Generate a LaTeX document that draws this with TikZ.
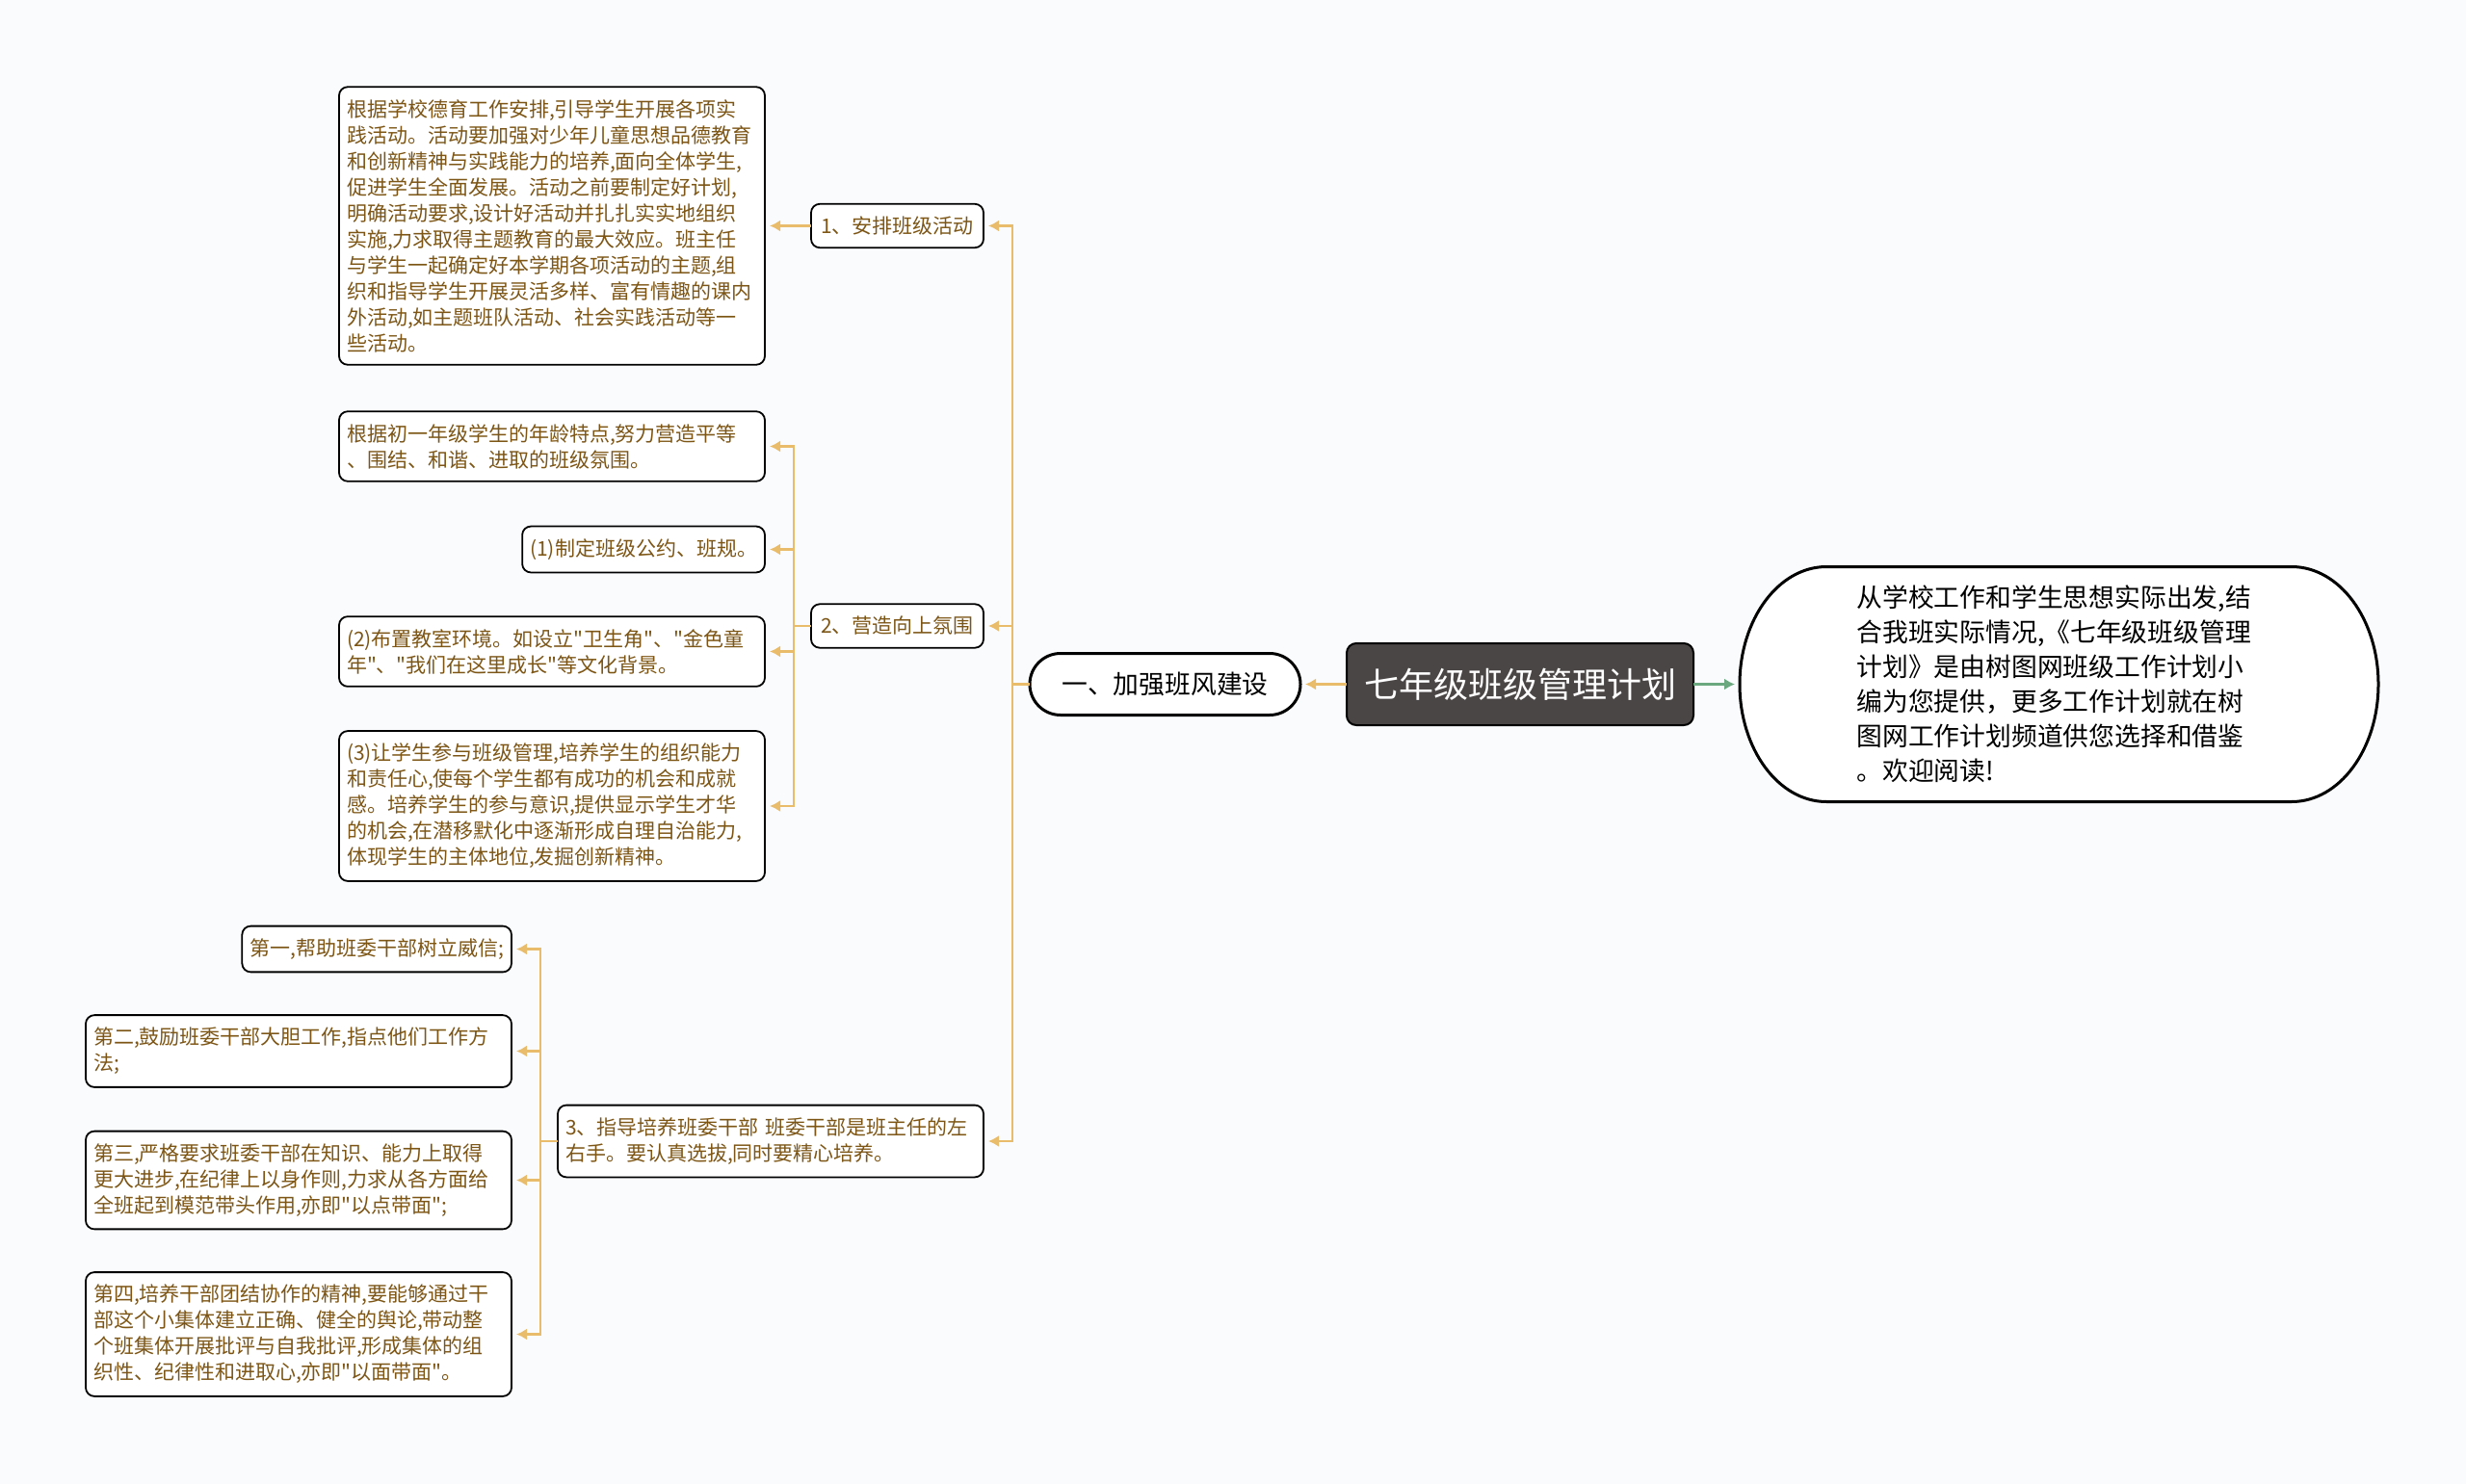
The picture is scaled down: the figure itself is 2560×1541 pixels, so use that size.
\documentclass[tikz,border=0pt]{standalone}
\usepackage{fontspec}
\newfontfamily\cjk{Noto Sans CJK SC}
\usepackage{tikz}
\usetikzlibrary{positioning,arrows.meta}
\definecolor{linkc}{RGB}{233,188,108}
\definecolor{textc}{RGB}{125,86,22}
\definecolor{rootc}{RGB}{75,70,70}
\definecolor{notec}{RGB}{107,167,127}
\definecolor{bgc}{RGB}{250,251,252}

\begin{document}
\begin{tikzpicture}[x=0.5pt, y=-0.5pt, node distance=24pt,
    box/.style={draw=black, line width=0.9pt, rounded corners=4.5pt, fill=white,
      text=textc, font=\cjk\fontsize{10.5}{13.5}\selectfont,
      inner xsep=4pt, inner ysep=6.5pt, outer sep=0pt, align=left},
    leaf/.style={box, text width=213pt},
    branch/.style={box, minimum width=89.5pt},
    topic/.style={draw=black, line width=1.5pt, fill=white, rounded corners=16pt, outer sep=0pt,
      font=\cjk\fontsize{13.4}{16}\selectfont, minimum width=140.5pt, minimum height=32pt},
    root/.style={draw=black, line width=1pt, fill=rootc, rounded corners=5pt, text=white, outer sep=0pt,
      font=\cjk\fontsize{18}{22}\selectfont, minimum width=180pt, minimum height=42.5pt},
    note/.style={font=\cjk\fontsize{13.4}{18}\selectfont, text width=210pt, align=left,
      minimum width=331.5pt, minimum height=122pt, outer sep=0pt},
    link/.style={draw=linkc, line width=1.3pt, shorten >=2.5pt,
      -{Latex[length=5.5pt,width=6pt]}},
    notelink/.style={link, draw=notec}]
        \useasboundingbox[fill=bgc] (0,0) rectangle (2560,1541);

        % NODES
        % -----------------

        \node[root] (root) at (1578,710.5) {七年级班级管理计划};
        \node[topic, left=of root] (topic) {一、加强班风建设};
        \node[note, right=of root] (note) {};
        \draw[line width=1.5pt, fill=white]
          ([xshift=45pt]note.north west) -- ([xshift=-45pt]note.north east)
          arc[start angle=90, end angle=-90, x radius=45pt, y radius=61pt]
          -- ([xshift=45pt]note.south west)
          arc[start angle=270, end angle=90, x radius=45pt, y radius=61pt] -- cycle;
        \node[note] at (note) {从学校工作和学生思想实际出发,结\\合我班实际情况,《七年级班级管理\\计划》是由树图网班级工作计划小\\编为您提供，更多工作计划就在树\\图网工作计划频道供您选择和借鉴\\。欢迎阅读!};

        \node[branch, left=of topic, yshift=238pt] (act) {1、安排班级活动};
        \node[branch, left=of topic, yshift=30.25pt] (mood) {2、营造向上氛围};
        \node[leaf, left=of topic, yshift=-237.25pt] (cadre) {3、指导培养班委干部 班委干部是班主任的左\\右手。要认真选拔,同时要精心培养。};

        % Activity leaf
        \node[leaf, left=of act] (act_1) {根据学校德育工作安排,引导学生开展各项实\\践活动。活动要加强对少年儿童思想品德教育\\和创新精神与实践能力的培养,面向全体学生,\\促进学生全面发展。活动之前要制定好计划,\\明确活动要求,设计好活动并扎扎实实地组织\\实施,力求取得主题教育的最大效应。班主任\\与学生一起确定好本学期各项活动的主题,组\\织和指导学生开展灵活多样、富有情趣的课内\\外活动,如主题班队活动、社会实践活动等一\\些活动。};

        % Mood leaves
        \node[leaf, left=of mood, yshift=93.25pt] (mood_1) {根据初一年级学生的年龄特点,努力营造平等\\、围结、和谐、进取的班级氛围。};
        \node[box, left=of mood, yshift=39.75pt] (mood_2) {(1)制定班级公约、班规。};
        \node[leaf, left=of mood, yshift=-13.25pt] (mood_3) {(2)布置教室环境。如设立"卫生角"、"金色童\\年"、"我们在这里成长"等文化背景。};
        \node[leaf, left=of mood, yshift=-93.5pt] (mood_4) {(3)让学生参与班级管理,培养学生的组织能力\\和责任心,使每个学生都有成功的机会和成就\\感。培养学生的参与意识,提供显示学生才华\\的机会,在潜移默化中逐渐形成自理自治能力,\\体现学生的主体地位,发掘创新精神。};

        % Cadre leaves
        \node[box, left=of cadre, yshift=99.75pt] (cadre_1) {第一,帮助班委干部树立威信;};
        \node[leaf, left=of cadre, yshift=46.75pt] (cadre_2) {第二,鼓励班委干部大胆工作,指点他们工作方\\法;};
        \node[leaf, left=of cadre, yshift=-20.25pt] (cadre_3) {第三,严格要求班委干部在知识、能力上取得\\更大进步,在纪律上以身作则,力求从各方面给\\全班起到模范带头作用,亦即"以点带面";};
        \node[leaf, left=of cadre, yshift=-100.25pt] (cadre_4) {第四,培养干部团结协作的精神,要能够通过干\\部这个小集体建立正确、健全的舆论,带动整\\个班集体开展批评与自我批评,形成集体的组\\织性、纪律性和进取心,亦即"以面带面"。};

        % EDGES
        % -----------------
        \coordinate[left=9pt of topic] (topic_t);
        \coordinate[left=9pt of act] (act_t);
        \coordinate[left=9pt of mood] (mood_t);
        \coordinate[left=9pt of cadre] (cadre_t);

        \draw[link] (root.west) -- (topic.east);
        \draw[notelink] (root.east) -- (note.west);

        \foreach \c in {act, mood, cadre}
          \draw[link] (topic.west) -- (topic_t) |- (\c.east);

        \draw[link] (act.west) -- (act_t) |- (act_1.east);

        \foreach \i in {1,...,4}
          \draw[link] (mood.west) -- (mood_t) |- (mood_\i.east);

        \foreach \i in {1,...,4}
          \draw[link] (cadre.west) -- (cadre_t) |- (cadre_\i.east);

\end{tikzpicture}
\end{document}
